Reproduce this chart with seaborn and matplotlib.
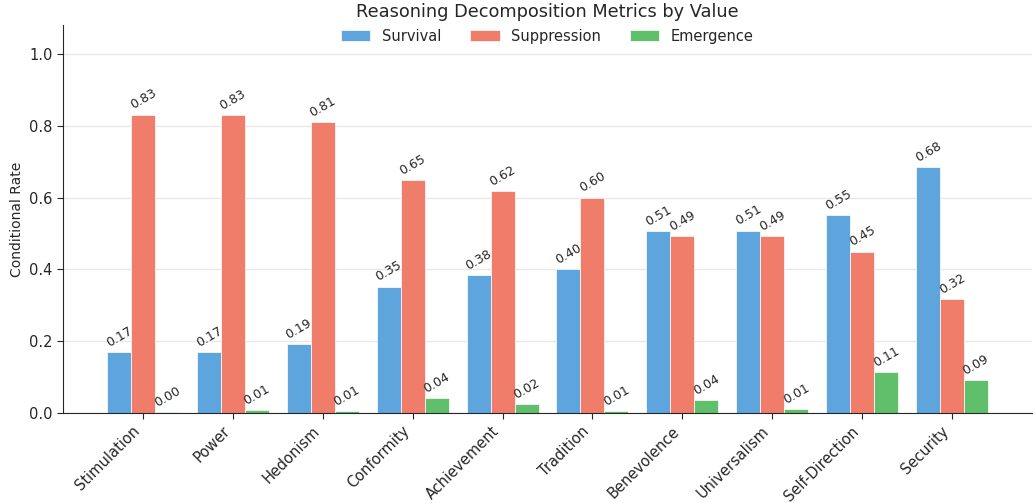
import matplotlib
matplotlib.use("Agg")
import matplotlib.pyplot as plt
import seaborn as sns
import pandas as pd

categories = ["Stimulation", "Power", "Hedonism", "Conformity", "Achievement",
              "Tradition", "Benevolence", "Universalism", "Self-Direction", "Security"]
survival = [0.169, 0.170, 0.191, 0.352, 0.383, 0.401, 0.507, 0.508, 0.551, 0.684]
suppression = [0.831, 0.830, 0.809, 0.648, 0.617, 0.599, 0.493, 0.492, 0.449, 0.316]
emergence = [0.002, 0.008, 0.005, 0.041, 0.024, 0.005, 0.036, 0.010, 0.114, 0.092]
series = ["Survival", "Suppression", "Emergence"]
colors = ["#5DA5DC", "#F07D6A", "#60BF6A"]

df = pd.DataFrame({
    "Value": categories * 3,
    "Metric": [s for s in series for _ in categories],
    "Rate": survival + suppression + emergence,
})

sns.set_style("white")
plt.rcParams["font.family"] = ["DejaVu Sans"]
fig, ax = plt.subplots(figsize=(10.34, 5.03), dpi=100)
fig.subplots_adjust(left=0.061, right=0.998, top=0.950, bottom=0.179)

sns.barplot(data=df, x="Value", y="Rate", hue="Metric", hue_order=series,
            palette=colors, width=0.8, edgecolor="white", linewidth=0.5,
            saturation=1, ax=ax, errorbar=None)

for cont in ax.containers:
    ax.bar_label(cont, fmt="%.2f", rotation=30, fontsize=9, padding=2)

ax.set_ylim(0, 1.08)
ax.set_xlim(-0.89, 9.89)
ax.set_yticks([0, 0.2, 0.4, 0.6, 0.8, 1.0])
ax.yaxis.grid(True, color="#e8e8e8", linewidth=1)
ax.set_axisbelow(True)
ax.set_xlabel("")
ax.set_ylabel("Conditional Rate", fontsize=10)
ax.set_title("Reasoning Decomposition Metrics by Value", fontsize=12.8, pad=6)
ax.tick_params(axis="both", labelsize=10.5, length=4, bottom=True, left=True)
plt.setp(ax.get_xticklabels(), rotation=45, ha="right")
sns.despine(ax=ax)
ax.legend(loc="upper center", ncol=3, frameon=False, fontsize=10.5,
          bbox_to_anchor=(0.5, 1.025), columnspacing=2.0)

fig.savefig("out.png", dpi=100)
